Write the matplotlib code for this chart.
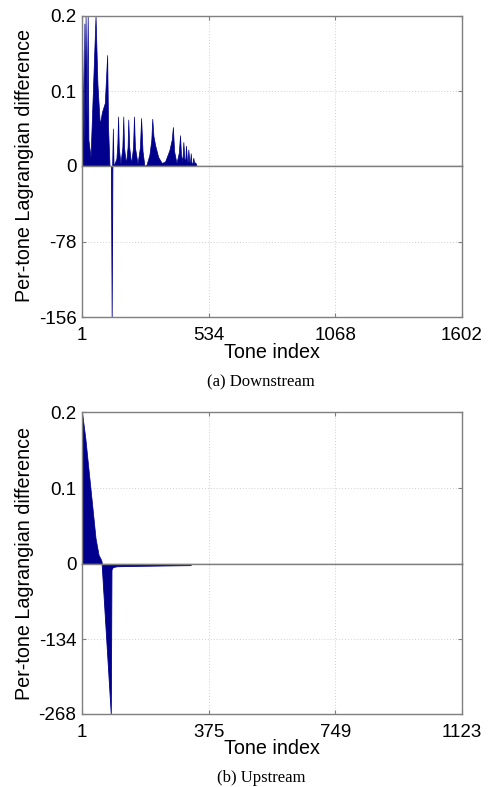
import matplotlib
matplotlib.use('Agg')
import matplotlib.pyplot as plt

# ---------------- data ----------------
# (a) Downstream
down_xmax = 1602
down_xticks = [1, 534, 1068, 1602]
down_pos_tone = [1, 2, 8, 11, 14, 16, 20, 25, 28, 37, 58, 66, 76, 85, 97, 107, 111, 117,
                 128, 131, 134, 146, 150, 153, 156, 163, 171, 175, 178, 186, 193, 196, 200,
                 208, 216, 220, 224, 235, 245, 250, 256, 264, 273, 285, 293, 297, 302, 309,
                 322, 337, 351, 369, 379, 384, 389, 399, 409, 414, 418, 424, 428, 432, 436,
                 439, 443, 446, 449, 453, 456, 459, 462, 466, 470, 474, 478, 484, 1602]
down_pos_val = [0.0, 0.155, 0.03, 0.19, 0.04, 0.2, 0.06, 0.2, 0.035, 0.012, 0.2, 0.11, 0.055,
                0.072, 0.084, 0.148, 0.05, 0.0, 0.0, 0.05, 0.0, 0.01, 0.03, 0.066, 0.025,
                0.003, 0.025, 0.066, 0.025, 0.003, 0.025, 0.062, 0.025, 0.003, 0.025, 0.066,
                0.025, 0.003, 0.025, 0.064, 0.02, 0.0, 0.002, 0.015, 0.035, 0.063, 0.04,
                0.028, 0.012, 0.004, 0.006, 0.021, 0.035, 0.052, 0.02, 0.004, 0.018, 0.041,
                0.015, 0.006, 0.032, 0.01, 0.006, 0.027, 0.008, 0.005, 0.022, 0.006, 0.004,
                0.017, 0.004, 0.003, 0.011, 0.003, 0.005, 0.0, 0.0]
down_neg_tone = [123, 126, 129]
down_neg_val = [0.0, -156.0, 0.0]
down_neg_min = -156
down_yticks_neg = [-156, -78]

# (b) Upstream
up_xmax = 1123
up_xticks = [1, 375, 749, 1123]
up_pos_tone = [1, 11, 21, 31, 41, 50, 58, 60]
up_pos_val = [0.2, 0.165, 0.121, 0.078, 0.034, 0.012, 0.005, 0.0]
up_neg_tone = [59, 86, 88, 92, 104, 143, 202, 261, 320, 325]
up_neg_val = [0.0, -268.0, -10.0, -5.5, -4.0, -3.5, -3.0, -2.5, -2.0, 0.0]
up_neg_min = -268
up_yticks_neg = [-268, -134]

pos_yticks = [0, 0.1, 0.2]
pos_ylabels = ['0', '0.1', '0.2']

ylabel = 'Per-tone Lagrangian difference'
xlabel = 'Tone index'
captions = ['(a) Downstream', '(b) Upstream']

# ---------------- styling ----------------
W, H = 490, 787
FILL = '#00008c'
FRAME = '#7f7f7f'
GRID = '#cfcfcf'
SANS = ['Liberation Sans', 'DejaVu Sans']
SERIF = ['Liberation Serif', 'DejaVu Serif']
plt.rcParams['font.family'] = SANS

fig = plt.figure(figsize=(W / 100, H / 100), dpi=100)


def px_axes(x0, x1, y0, y1):
    return fig.add_axes([x0 / W, 1 - y1 / H, (x1 - x0) / W, (y1 - y0) / H])


def style(ax):
    for s in ax.spines.values():
        s.set_color(FRAME)
        s.set_linewidth(1.0)
    ax.tick_params(direction='in', length=3, width=0.8, color=FRAME,
                   labelsize=13.5, labelcolor='black', top=True, right=True)
    ax.grid(True, linestyle=(0, (1, 2)), color=GRID, linewidth=0.7)
    ax.set_axisbelow(True)


panels = [
    dict(top=16, mid=166, bot=317, xmax=down_xmax, xticks=down_xticks,
         pt=down_pos_tone, pv=down_pos_val, nt=down_neg_tone, nv=down_neg_val,
         nmin=down_neg_min, nticks=down_yticks_neg, xl_y=352, cap_y=382),
    dict(top=412, mid=564, bot=714, xmax=up_xmax, xticks=up_xticks,
         pt=up_pos_tone, pv=up_pos_val, nt=up_neg_tone, nv=up_neg_val,
         nmin=up_neg_min, nticks=up_yticks_neg, xl_y=748, cap_y=778),
]

for i, p in enumerate(panels):
    ax_u = px_axes(82, 462, p['top'], p['mid'])
    ax_l = px_axes(82, 462, p['mid'], p['bot'])
    for ax in (ax_u, ax_l):
        style(ax)
        ax.set_xlim(1, p['xmax'])
        ax.set_xticks(p['xticks'])
    ax_u.fill_between(p['pt'], p['pv'], 0, color=FILL, linewidth=0.5)
    ax_u.set_ylim(0, 0.2)
    ax_u.set_yticks(pos_yticks)
    ax_u.set_yticklabels(pos_ylabels)
    ax_u.tick_params(labelbottom=False, bottom=False)

    ax_l.fill_between(p['nt'], p['nv'], 0, color=FILL, edgecolor=FILL, linewidth=0.6)
    ax_l.set_ylim(p['nmin'], 0)
    ax_l.set_yticks(p['nticks'])
    ax_l.set_yticklabels([str(v) for v in p['nticks']])
    ax_l.tick_params(top=False, pad=7, axis='x')
    ax_l.tick_params(axis='y', pad=4)
    ax_u.tick_params(axis='y', pad=4)

    fig.text(25 / W, 1 - p['mid'] / H, ylabel, rotation=90, ha='center', va='center',
             fontsize=14.2)
    fig.text(272 / W, 1 - p['xl_y'] / H, xlabel, ha='center', va='center', fontsize=14.2)
    fig.text(261 / W, 1 - p['cap_y'] / H, captions[i], ha='center', va='center',
             fontsize=12, family=SERIF)

fig.savefig('out.png', dpi=100, facecolor='white')
